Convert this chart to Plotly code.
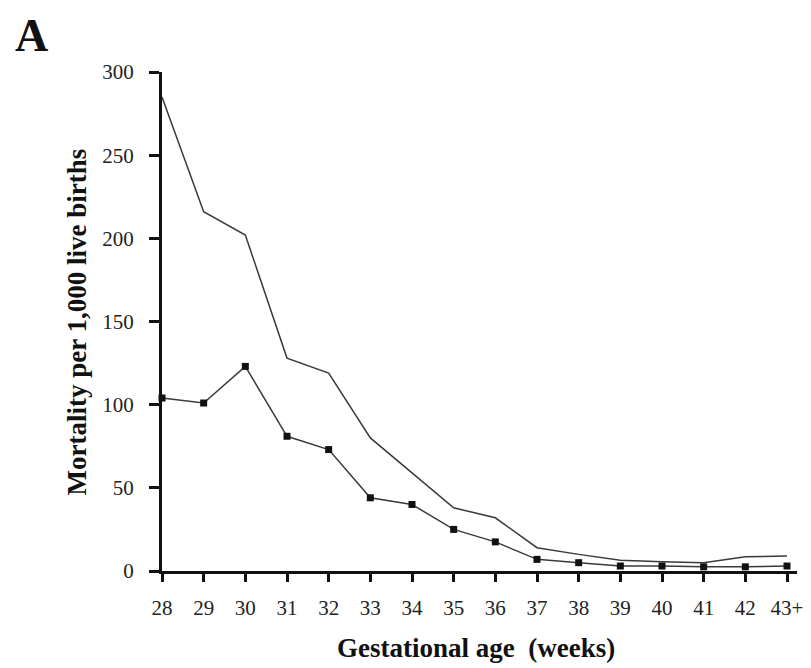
import plotly.graph_objects as go

weeks = [28, 29, 30, 31, 32, 33, 34, 35, 36, 37, 38, 39, 40, 41, 42, 43]
week_labels = ["28", "29", "30", "31", "32", "33", "34", "35", "36", "37", "38", "39", "40", "41", "42", "43+"]
upper_series = [285, 216, 202, 128, 119, 80, 59, 38, 32, 14, 10, 6.5, 5.5, 5, 8.5, 9]
lower_series = [104, 101, 123, 81, 73, 44, 40, 25, 17.5, 7, 5, 3, 3, 2.5, 2.5, 3]
y_ticks = [0, 50, 100, 150, 200, 250, 300]

font_family = "Liberation Serif, Times New Roman, serif"

fig = go.Figure()
fig.add_trace(go.Scatter(x=weeks, y=upper_series, mode="lines",
                         line=dict(color="#3a3a3a", width=1.5), cliponaxis=False))
fig.add_trace(go.Scatter(x=weeks, y=lower_series, mode="lines+markers",
                         line=dict(color="#3a3a3a", width=1.5),
                         marker=dict(symbol="square", size=7, color="#111"),
                         cliponaxis=False))

fig.update_layout(
    width=811, height=668,
    margin=dict(l=154, r=22, t=64, b=105),
    paper_bgcolor="white", plot_bgcolor="white",
    showlegend=False,
    font=dict(family=font_family, size=21, color="#222"),
    xaxis=dict(range=[28, 43.24], tickvals=weeks, ticktext=week_labels,
               showgrid=False, zeroline=False, showline=True, linewidth=3, linecolor="#111",
               ticks="outside", ticklen=8, tickwidth=3, tickcolor="#111",
               ticklabelstandoff=8,
               tickfont=dict(size=21, family=font_family, color="#222")),
    yaxis=dict(range=[0, 300], tickvals=y_ticks,
               showgrid=False, zeroline=False, showline=True, linewidth=3, linecolor="#111",
               ticks="outside", ticklen=10, tickwidth=3, tickcolor="#111",
               ticklabelstandoff=11,
               tickfont=dict(size=21, family=font_family, color="#222")),
)

fig.add_annotation(text="<b>A</b>", xref="paper", yref="paper", x=-0.206, y=1.074,
                   xanchor="center", yanchor="middle", showarrow=False,
                   font=dict(size=46, family=font_family, color="#111"))
fig.add_annotation(text="<b>Gestational age  (weeks)</b>", xref="paper", yref="paper",
                   x=0.4945, y=-0.154, xanchor="center", yanchor="middle", showarrow=False,
                   font=dict(size=27, family=font_family, color="#111"))
fig.add_annotation(text="<b>Mortality per 1,000 live births</b>", xref="paper", yref="paper",
                   x=-0.134, y=0.50, xanchor="center", yanchor="middle", showarrow=False,
                   textangle=-90, font=dict(size=27, family=font_family, color="#111"))

fig.write_html("out.html")
